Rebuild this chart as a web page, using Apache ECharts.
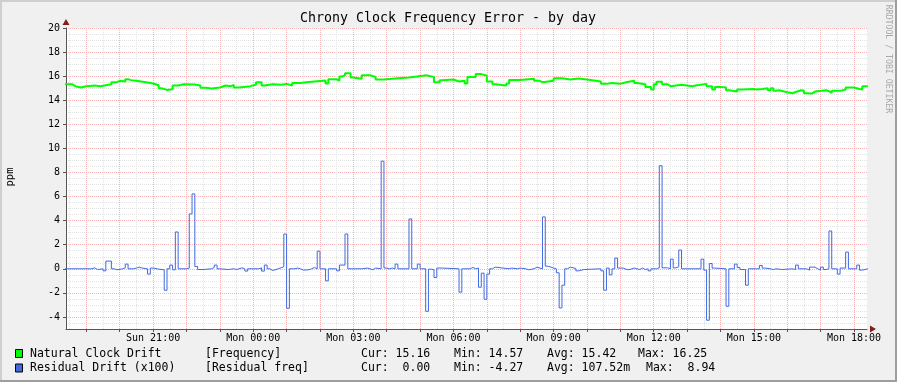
<!DOCTYPE html>
<html>
<head>
<meta charset="utf-8">
<title>Chrony Clock Frequency Error - by day</title>
<script src="https://cdn.jsdelivr.net/npm/echarts@6/dist/echarts.min.js"></script>
<style>
html, body { margin: 0; padding: 0; background: #f0f0f0; }
#chart { width: 897px; height: 382px; }
</style>
</head>
<body>
<div id="chart"></div>
<script>
// time is in minutes since Sun 00:00, one RRD step = 5 min
const driftTimes = [1100,1115,1120,1130,1140,1155,1165,1185,1195,1200,1210,1215,1220,1230,1250,1260,1270,1275,1285,1295,
  1305,1315,1335,1345,1355,1365,1380,1390,1400,1405,1415,1435,1445,1455,1460,1475,1490,1500,1510,1525,
  1535,1555,1570,1575,1590,1595,1600,1605,1615,1620,1635,1650,1660,1675,1695,1720,1745,1750,1765,1775,
  1780,1800,1810,1820,1825,1840,1850,1860,1870,1875,1895,1900,1920,1945,1955,1960,1980,1995,2010,2025,
  2040,2065,2075,2085,2100,2110,2125,2130,2145,2155,2160,2165,2175,2185,2190,2210,2220,2230,2235,2255,
  2265,2270,2280,2290,2295,2310,2320,2340,2345,2355,2365,2370,2375,2380,2385,2395,2400,2410,2415,2425,
  2430,2435,2445,2450,2470,2475,2480,2495,2505,2520,2530,2535,2545];
const driftValues = [15.33,15.17,15.06,15.17,15.22,15.17,15.33,15.5,15.61,15.56,15.75,15.67,15.61,15.47,15.39,15.25,15.0,14.86,14.92,15.22,
  15.33,15.31,15.22,15.03,14.97,15.06,15.22,15.17,15.28,15.06,15.17,15.31,15.5,15.22,15.33,15.28,15.36,15.22,15.44,15.5,
  15.58,15.64,15.39,15.75,15.61,15.97,16.08,16.25,15.89,15.78,16.08,15.94,15.72,15.81,15.89,16.03,16.08,15.94,15.5,15.67,
  15.72,15.56,15.61,15.39,15.94,16.17,16.03,15.56,15.33,15.22,15.39,15.69,15.78,15.61,15.5,15.61,15.83,15.72,15.81,15.72,
  15.56,15.36,15.44,15.36,15.5,15.61,15.44,15.33,15.11,14.89,15.33,15.53,15.33,15.17,15.28,15.22,15.17,15.22,15.36,15.17,
  14.89,15.11,15.06,14.83,14.72,14.89,14.94,14.89,14.94,15.0,14.83,15.0,14.78,14.83,14.72,14.67,14.58,14.69,14.83,14.78,
  14.58,14.57,14.72,14.83,14.75,14.61,14.78,14.89,15.06,14.94,14.89,15.16,15.16];

const residTimes = [1100,1150,1155,1160,1170,1175,1185,1190,1195,1205,1210,1215,1225,1230,1235,1240,1250,1255,1260,1270,
  1280,1285,1290,1295,1300,1305,1320,1325,1330,1335,1340,1350,1365,1370,1375,1380,1395,1405,1410,1420,
  1425,1430,1450,1455,1460,1465,1470,1475,1485,1490,1495,1500,1505,1515,1520,1525,1530,1540,1545,1550,
  1555,1560,1570,1575,1590,1595,1605,1610,1635,1645,1650,1655,1660,1670,1675,1680,1685,1690,1695,1700,
  1720,1725,1735,1740,1750,1755,1760,1765,1770,1780,1810,1815,1830,1835,1840,1845,1850,1855,1860,1865,
  1870,1875,1900,1905,1915,1920,1930,1935,1945,1950,1960,1965,1970,1980,1985,1990,1995,2000,2005,2010,
  2020,2025,2035,2065,2070,2075,2080,2085,2090,2095,2105,2110,2115,2125,2135,2140,2145,2150,2155,2165,
  2170,2175,2185,2190,2195,2200,2205,2210,2245,2250,2255,2260,2265,2270,2290,2295,2305,2310,2315,2325,
  2330,2350,2355,2360,2370,2375,2380,2390,2410,2415,2420,2435,2440,2450,2455,2460,2465,2470,2475,2480,
  2490,2495,2505,2510,2525,2530,2535,2545];
const residValues = [0,0.08,-0.06,0,-0.17,0.64,0,-0.08,0,0.08,0.39,0,0.06,0.14,0.06,0,-0.44,0.06,-0.03,-0.08,
  -1.78,0,0.31,-0.08,3.06,0,0.06,4.56,6.22,0.19,-0.06,0,0.11,0.31,0,-0.06,0,-0.06,0.08,0,
  -0.19,0,0.08,-0.19,0.31,0,-0.14,0,0.08,0.17,2.89,-3.28,0,0.06,0,-0.11,-0.08,0,0.11,0,
  1.47,0,-1.0,0,-0.17,0.31,2.89,0,0.06,0,-0.08,0.06,0,8.94,0.06,0,0.06,0,0.39,0,
  4.14,0,0.39,0,-3.53,-0.03,-0.08,-0.72,0.06,0,-1.94,0,0.11,0,0.06,-1.53,-0.36,-2.53,-0.44,0,
  0.14,0,0.06,0,0.06,0,-0.08,0,0.14,0,4.31,0.22,0.06,0,-0.33,-3.25,-1.36,0,0.14,0.03,
  -0.17,-0.06,0,-0.17,-1.78,0.06,-0.5,0,0.89,0.06,-0.03,-0.08,0.06,-0.06,0.06,-0.06,0,-0.17,0,0.08,
  8.56,0.08,0,0.8,0.08,0.17,1.56,0,0.8,-0.11,-4.27,0.44,0.06,0,-3.11,0,0.39,0.11,-0.06,-1.36,
  0,0.28,0.06,0,-0.06,0,-0.06,0,-0.06,0.31,0,-0.11,0.14,0,-0.11,0.14,-0.06,0,3.14,0,
  -0.44,0.06,1.39,0,0.31,-0.11,0,0];

const labelTicks = [1260, 1440, 1620, 1800, 1980, 2160, 2340, 2520];
const labelNames = ['Sun 21:00', 'Mon 00:00', 'Mon 03:00', 'Mon 06:00', 'Mon 09:00', 'Mon 12:00', 'Mon 15:00', 'Mon 18:00'];
const yLabels = [-4, -2, 0, 2, 4, 6, 8, 10, 12, 14, 16, 18, 20];

const legendRows = [
  { name: 'Natural Clock Drift',   ds: '[Frequency]',     cur: 'Cur: 15.16', min: 'Min: 14.57', avg: 'Avg: 15.42',   max: 'Max: 16.25', color: '#00ff00' },
  { name: 'Residual Drift (x100)', ds: '[Residual freq]', cur: 'Cur:  0.00', min: 'Min: -4.27', avg: 'Avg: 107.52m', max: 'Max:  8.94', color: '#4169e1' }
];

const X_MIN = 1103.4, X_MAX = 2543.4;
const MONO = 'DejaVu Sans Mono';

// grid positions (every hour / every half hour)
const hourTicks = [], halfTicks = [];
for (let t = 1140; t <= X_MAX; t += 60) hourTicks.push(t);
for (let t = 1110; t <= X_MAX; t += 60) halfTicks.push(t);
const yMinor = [];
for (let v = -4.5; v < 20; v += 0.5) if (v % 2 !== 0) yMinor.push(v);

function pairs(ts, vs) {
  return ts.map(function (t, i) { return [t, vs[i]]; });
}

function txt(x, y, text, size, align, rot, color) {
  return {
    type: 'text', x: x, y: y, rotation: rot || 0, silent: true,
    style: { text: text, fontFamily: MONO, fontSize: size, fill: color || '#000',
             align: align || 'left', verticalAlign: 'middle',
             textAlign: align || 'left', textVerticalAlign: 'middle' }
  };
}

const graphics = [
  // 3d frame
  { type: 'rect', shape: { x: 0, y: 0, width: 897, height: 2 }, style: { fill: '#cfcfcf' }, silent: true },
  { type: 'rect', shape: { x: 0, y: 0, width: 2, height: 382 }, style: { fill: '#cfcfcf' }, silent: true },
  { type: 'rect', shape: { x: 0, y: 380, width: 897, height: 2 }, style: { fill: '#9e9e9e' }, silent: true },
  { type: 'rect', shape: { x: 895, y: 0, width: 2, height: 382 }, style: { fill: '#9e9e9e' }, silent: true },
  txt(448, 19, 'Chrony Clock Frequency Error - by day', 13.3, 'center'),
  txt(10.5, 177, 'ppm', 10.5, 'center', Math.PI / 2),
  txt(888, 59, 'RRDTOOL / TOBI OETIKER', 8.2, 'center', -Math.PI / 2, '#a8a8a8')
];

legendRows.forEach(function (r, i) {
  const y = 354 + i * 14.5;
  graphics.push({ type: 'rect', silent: true, shape: { x: 15.5, y: y - 4.5, width: 7, height: 8 },
                  style: { fill: r.color, stroke: '#000', lineWidth: 1 } });
  graphics.push(txt(30, y, r.name, 11.5));
  graphics.push(txt(205, y, r.ds, 11.5));
  graphics.push(txt(361, y, r.cur, 11.5));
  graphics.push(txt(454, y, r.min, 11.5));
  graphics.push(txt(547, y, r.avg, 11.5));
  graphics.push(txt(i === 0 ? 638 : 646, y, r.max, 11.5));
});

const MINOR = '#e3e3e3', MAJOR = '#f8b4b4', AXIS = '#555';

const chart = echarts.init(document.getElementById('chart'));
chart.setOption({
  animation: false,
  backgroundColor: '#f0f0f0',
  grid: { left: 66, right: 30, top: 28, bottom: 53, show: true, backgroundColor: '#ffffff', borderWidth: 0 },
  xAxis: [
    { // minor grid, every half hour
      type: 'value', position: 'bottom', min: X_MIN, max: X_MAX,
      axisLine: { show: false }, axisLabel: { show: false },
      axisTick: { show: false, customValues: halfTicks },
      splitLine: { show: true, lineStyle: { color: MINOR, type: [1, 1] } }
    },
    { // arrow
      type: 'value', position: 'bottom', min: X_MIN, max: X_MAX,
      axisLine: { show: true, onZero: false, symbol: ['none', 'triangle'], symbolSize: [7, 6], symbolOffset: [0, 6],
                  lineStyle: { color: '#7f1f1f', width: 0 } },
      axisTick: { show: false }, axisLabel: { show: false }, splitLine: { show: false }
    },
    { // major grid, every hour, labels every 3 hours
      type: 'value', position: 'bottom', min: X_MIN, max: X_MAX,
      axisLine: { show: true, onZero: false, lineStyle: { color: AXIS } },
      axisTick: { show: true, length: 3, customValues: hourTicks, lineStyle: { color: AXIS } },
      axisLabel: {
        customValues: labelTicks, margin: 4, color: '#000', fontFamily: MONO, fontSize: 10,
        formatter: function (v) { return labelNames[labelTicks.indexOf(v)]; }
      },
      splitLine: { show: true, lineStyle: { color: MAJOR, type: [1, 1] } }
    }
  ],
  yAxis: [
    { // minor grid
      type: 'value', position: 'left', min: -5, max: 20,
      axisLine: { show: false }, axisLabel: { show: false },
      axisTick: { show: false, customValues: yMinor },
      splitLine: { show: true, lineStyle: { color: MINOR, type: [1, 1] } }
    },
    { // arrow
      type: 'value', position: 'left', min: -5, max: 20,
      axisLine: { show: true, onZero: false, symbol: ['none', 'triangle'], symbolSize: [7, 6], symbolOffset: [0, 6],
                  lineStyle: { color: '#7f1f1f', width: 0 } },
      axisTick: { show: false }, axisLabel: { show: false }, splitLine: { show: false }
    },
    { // major grid + labels
      type: 'value', position: 'left', min: -5, max: 20,
      axisLine: { show: true, onZero: false, lineStyle: { color: AXIS } },
      axisTick: { show: true, length: 3, customValues: yLabels, lineStyle: { color: AXIS } },
      axisLabel: { customValues: yLabels, margin: 6, color: '#000', fontFamily: MONO, fontSize: 10 },
      splitLine: { show: true, lineStyle: { color: MAJOR, type: [1, 1] } }
    }
  ],
  series: [
    {
      name: legendRows[0].name, type: 'line', step: 'end', xAxisIndex: 2, yAxisIndex: 2,
      data: pairs(driftTimes, driftValues), showSymbol: false, symbol: 'none', silent: true,
      lineStyle: { color: legendRows[0].color, width: 2 }
    },
    {
      name: legendRows[1].name, type: 'line', step: 'end', xAxisIndex: 2, yAxisIndex: 2,
      data: pairs(residTimes, residValues), showSymbol: false, symbol: 'none', silent: true,
      lineStyle: { color: legendRows[1].color, width: 1 }
    }
  ],
  graphic: graphics
});
</script>
</body>
</html>
